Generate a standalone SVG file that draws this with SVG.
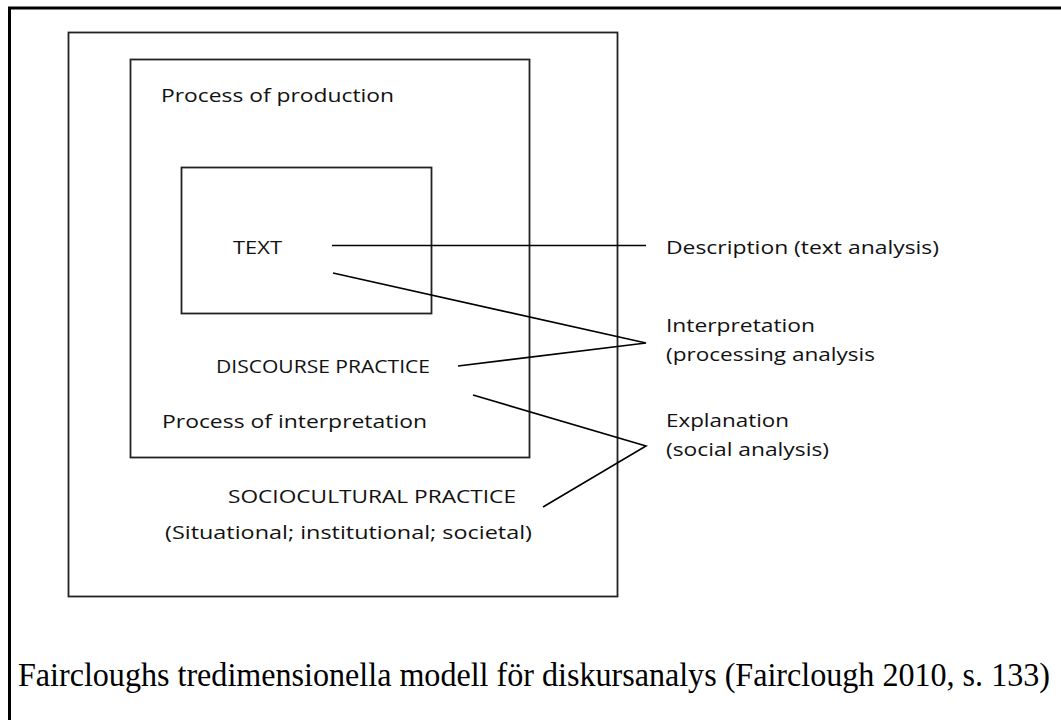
<svg xmlns="http://www.w3.org/2000/svg" width="1061" height="720" viewBox="0 0 1061 720">
<style>
.box{fill:none;stroke:#222;stroke-width:1.8}
.frame{fill:none;stroke:#000;stroke-width:3}
.lbl{font-family:"Open Sans","Noto Sans","Liberation Sans",sans-serif;font-size:19px;fill:#111}
.cap{font-family:"Liberation Serif","Times New Roman",serif;font-size:30px;fill:#000}
.conn{fill:none;stroke:#000;stroke-width:1.6;stroke-linecap:butt;stroke-linejoin:miter}
</style>
<rect width="1061" height="720" fill="#fff"/>
<rect id="frame" class="frame" x="9.5" y="8" width="1070" height="730"/>
<g id="sociocultural">
<rect class="box" x="68.5" y="32.5" width="549" height="564"/>
<text class="lbl" x="228" y="503" textLength="288" lengthAdjust="spacingAndGlyphs">SOCIOCULTURAL PRACTICE</text>
<text class="lbl" x="165" y="539" textLength="367" lengthAdjust="spacingAndGlyphs">(Situational; institutional; societal)</text>
</g>
<g id="discourse">
<rect class="box" x="130.5" y="59.5" width="399" height="398"/>
<text class="lbl" x="161" y="102" textLength="233" lengthAdjust="spacingAndGlyphs">Process of production</text>
<text class="lbl" x="216" y="373" textLength="214" lengthAdjust="spacingAndGlyphs">DISCOURSE PRACTICE</text>
<text class="lbl" x="162" y="428" textLength="265" lengthAdjust="spacingAndGlyphs">Process of interpretation</text>
</g>
<g id="text-box">
<rect class="box" x="181.5" y="167.5" width="250" height="146"/>
<text class="lbl" x="233" y="254" textLength="49" lengthAdjust="spacingAndGlyphs">TEXT</text>
</g>
<g id="description">
<text class="lbl" x="666" y="254" textLength="273" lengthAdjust="spacingAndGlyphs">Description (text analysis)</text>
</g>
<g id="interpretation">
<text class="lbl" x="666" y="332" textLength="149" lengthAdjust="spacingAndGlyphs">Interpretation</text>
<text class="lbl" x="666" y="361" textLength="209" lengthAdjust="spacingAndGlyphs">(processing analysis</text>
</g>
<g id="explanation">
<text class="lbl" x="666" y="427" textLength="123" lengthAdjust="spacingAndGlyphs">Explanation</text>
<text class="lbl" x="666" y="456" textLength="163" lengthAdjust="spacingAndGlyphs">(social analysis)</text>
</g>
<g id="connectors">
<line class="conn" x1="332" y1="245.5" x2="646" y2="245.5"/>
<polyline class="conn" points="333,273 646,343 458,366"/>
<polyline class="conn" points="473,395 646,446 543,507"/>
</g>
<g id="caption">
<text class="cap" x="18" y="623.6" transform="scale(1,1.1)" textLength="1032" lengthAdjust="spacingAndGlyphs">Faircloughs tredimensionella modell för diskursanalys (Fairclough 2010, s. 133)</text>
</g>
</svg>
